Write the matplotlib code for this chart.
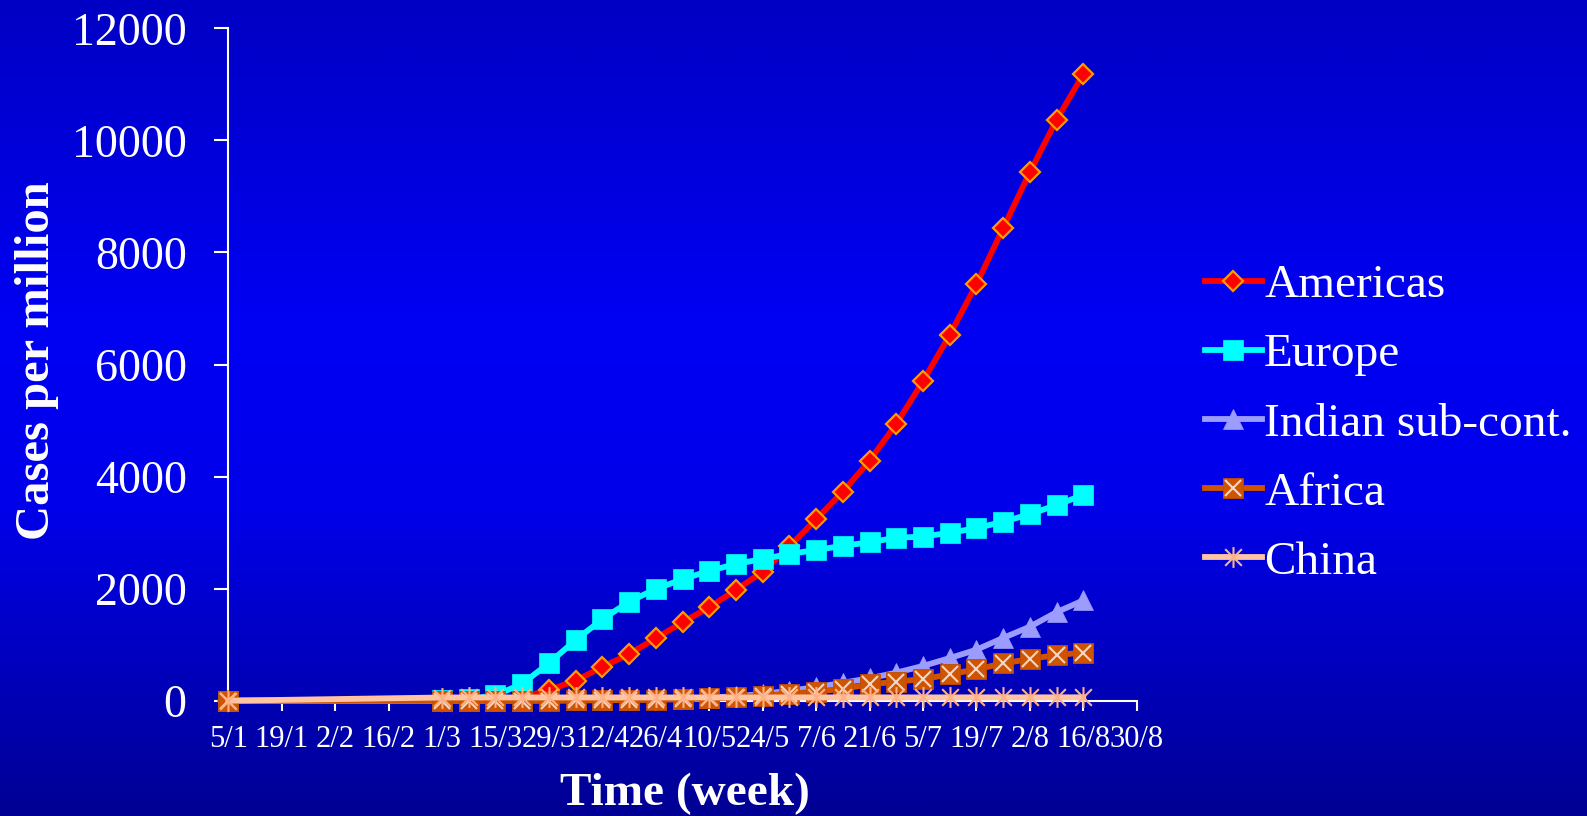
import numpy as np
import matplotlib
matplotlib.use("Agg")
import matplotlib.pyplot as plt
from matplotlib.path import Path
from matplotlib.colors import LinearSegmentedColormap
from matplotlib.legend_handler import HandlerTuple
from datetime import datetime
import matplotlib.dates as mdates

# ---------------- data ----------------
dates = ["5/1", "1/3", "8/3", "15/3", "22/3", "29/3", "5/4", "12/4", "19/4", "26/4",
         "3/5", "10/5", "17/5", "24/5", "31/5", "7/6", "14/6", "21/6", "28/6", "5/7",
         "12/7", "19/7", "26/7", "2/8", "9/8", "16/8"]
americas = [0, 0, 5, 20, 60, 190, 357, 600, 833, 1113, 1399, 1667, 1976, 2302, 2752,
            3239, 3727, 4283, 4938, 5700, 6527, 7432, 8431, 9431, 10364, 11180]
europe = [0, 5, 25, 100, 300, 670, 1083, 1453, 1767, 1994, 2167, 2317, 2440, 2529, 2618,
          2690, 2764, 2827, 2909, 2927, 2998, 3077, 3195, 3327, 3493, 3671]
india = [0, 0, 0, 1, 2, 4, 8, 12, 18, 26, 38, 55, 80, 120, 180, 240, 320, 400, 500, 620,
         760, 910, 1120, 1320, 1580, 1790]
africa = [0, 0, 0, 1, 2, 3, 5, 8, 12, 18, 25, 40, 60, 90, 125, 160, 215, 290, 340, 385,
          470, 560, 665, 745, 815, 860]
china = [0, 57, 58, 58, 58, 58, 58, 58, 58, 58, 58, 58, 58, 58, 59, 59, 59, 59, 59, 59,
         59, 60, 60, 60, 60, 60]
tick_labels = ["5/1", "19/1", "2/2", "16/2", "1/3", "15/3", "29/3", "12/4", "26/4", "10/5",
               "24/5", "7/6", "21/6", "5/7", "19/7", "2/8", "16/8", "30/8"]
y_ticks = [0, 2000, 4000, 6000, 8000, 10000, 12000]
series_names = ["Americas", "Europe", "Indian sub-cont.", "Africa", "China"]

def to_date(s):
    return datetime.strptime(s + "/2020", "%d/%m/%Y")

x = mdates.date2num([to_date(d) for d in dates])
xt = mdates.date2num([to_date(d) for d in tick_labels])

FONT = "Liberation Serif"
W, H = 1587, 816
fig = plt.figure(figsize=(W / 100, H / 100), dpi=100)

# background gradient
bg = fig.add_axes([0, 0, 1, 1], zorder=-5)
cmap = LinearSegmentedColormap.from_list(
    "bg", [(0.0, "#0000C4"), (0.40, "#0000F4"), (0.62, "#0000EA"), (1.0, "#000094")])
grad = np.linspace(0, 1, 400).reshape(-1, 1)
bg.imshow(grad, aspect="auto", cmap=cmap, extent=[0, 1, 0, 1], origin="upper")
bg.set_axis_off()

L, R, T, B = 228.3, 1136.7, 28.3, 700.7
ax = fig.add_axes([L / W, 1 - B / H, (R - L) / W, (B - T) / H], zorder=1)
ax.set_facecolor("none")

lw = 4.2
c_am, c_eu, c_in, c_af, c_ch = "#FF0000", "#00FFFF", "#9C9CFF", "#D05400", "#FFC4A4"

l_am, = ax.plot(x, americas, color=c_am, lw=lw, marker="D", ms=9.8, mfc=c_am,
                mec="#FF9A00", mew=1.6, clip_on=False, zorder=3)
l_eu, = ax.plot(x, europe, color=c_eu, lw=lw, marker="s", ms=14.6, mfc=c_eu,
                mec=c_eu, mew=0.5, clip_on=False, zorder=4)
l_in, = ax.plot(x, india, color=c_in, lw=lw, marker="^", ms=14.5, mfc=c_in,
                mec=c_in, mew=0.5, clip_on=False, zorder=5)
l_af, = ax.plot(x, africa, color=c_af, lw=lw, marker="s", ms=14.6, mfc=c_af,
                mec="#C04C00", mew=0.6, clip_on=False, zorder=6)
l_afx, = ax.plot(x, africa, ls="none", marker="x", ms=11.5, mec="#F0D6C6", mew=1.5,
                 clip_on=False, zorder=6)

ast = Path([(0, -1), (0, 1), (-0.8, -0.8), (0.8, 0.8), (-0.8, 0.8), (0.8, -0.8)],
           [Path.MOVETO, Path.LINETO, Path.MOVETO, Path.LINETO, Path.MOVETO, Path.LINETO])
l_ch, = ax.plot(x, china, color=c_ch, lw=lw, marker=ast, ms=15, mfc="none",
                mec="#FFB084", mew=1.5, clip_on=False, zorder=7)

ax.set_xlim(xt[0], xt[-1])
ax.set_ylim(0, 12000)
ax.set_xticks(xt)
ax.set_xticklabels(tick_labels)
ax.set_yticks(y_ticks)
ax.set_yticklabels([str(v) for v in y_ticks])

for s in ["top", "right"]:
    ax.spines[s].set_visible(False)
for s in ["left", "bottom"]:
    ax.spines[s].set_color("white")
    ax.spines[s].set_linewidth(1.5)

ax.tick_params(axis="y", direction="out", length=10, width=1.5, colors="white",
               labelsize=33, pad=20)
ax.tick_params(axis="x", direction="out", length=7, width=1.5, colors="white",
               labelsize=22, pad=10.5)
for lab in ax.get_xticklabels() + ax.get_yticklabels():
    lab.set_fontfamily(FONT)

fig.text(684.7 / W, 1 - 804.6 / H, "Time (week)", ha="center", va="baseline",
         fontsize=34, fontweight="bold", color="white", fontfamily=FONT)
fig.text(49 / W, 1 - 361 / H, "Cases per million", ha="center", va="baseline",
         rotation=90, rotation_mode="anchor", fontsize=35, fontweight="bold",
         color="white", fontfamily=FONT)

handles = [l_am, l_eu, l_in, (l_af, l_afx), l_ch]
leg = ax.legend(handles, series_names, loc="center left",
                bbox_to_anchor=(1.0 + (1205 - R) / (R - L), (B - 424) / (B - T)),
                frameon=False, prop={"family": FONT, "size": 34},
                handlelength=1.2, handletextpad=0.05, labelspacing=0.55,
                borderaxespad=0, borderpad=0,
                handler_map={tuple: HandlerTuple(ndivide=1, pad=0)})
for t in leg.get_texts():
    t.set_color("white")

fig.savefig("out.png", dpi=100)
